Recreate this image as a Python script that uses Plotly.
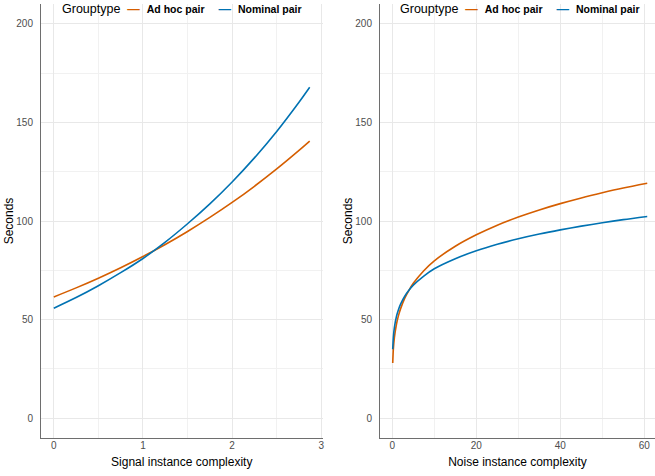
import plotly.graph_objects as go

# ---- data ----
signal_x = [0, 0.25, 0.5, 0.75, 1.0, 1.25, 1.5, 1.75, 2.0, 2.25, 2.5, 2.75, 2.87]
signal_adhoc = [61.5, 66.1, 71.0, 76.3, 82.0, 88.1, 94.7, 101.8, 109.4, 117.6, 126.4, 135.8, 140.5]
signal_nominal = [55.8, 61.2, 67.2, 73.8, 81.0, 89.3, 98.6, 108.7, 119.8, 132.0, 145.4, 160.2, 167.8]

noise_x = [0.1, 0.25, 0.5, 1, 1.5, 2, 3, 4, 5, 7.5, 10, 15, 20, 25, 30, 35, 40, 45, 50, 55, 60.7]
noise_adhoc = [28.0, 35.1, 41.0, 47.8, 52.3, 55.7, 61.0, 65.0, 68.4, 74.8, 79.8, 87.2, 93.0,
               97.9, 102.0, 105.6, 108.8, 111.7, 114.3, 116.7, 119.1]
noise_nominal = [35.0, 41.1, 46.1, 51.7, 55.3, 58.0, 62.0, 65.0, 67.5, 72.1, 75.8, 80.9, 84.9,
                 88.2, 91.0, 93.4, 95.5, 97.4, 99.1, 100.7, 102.3]

groups = ["Ad hoc pair", "Nominal pair"]
colors = {"Ad hoc pair": "#D55E00", "Nominal pair": "#0072B2"}

FONT = "Liberation Sans, Arial, sans-serif"

fig = go.Figure()
for name, ys in zip(groups, [signal_adhoc, signal_nominal]):
    fig.add_trace(go.Scatter(x=signal_x, y=ys, mode="lines", name=name,
                             line=dict(color=colors[name], width=1.6, shape="spline", smoothing=0.8),
                             xaxis="x", yaxis="y", showlegend=False))
for name, ys in zip(groups, [noise_adhoc, noise_nominal]):
    fig.add_trace(go.Scatter(x=noise_x, y=ys, mode="lines", name=name,
                             line=dict(color=colors[name], width=1.6, shape="spline", smoothing=0.8),
                             xaxis="x2", yaxis="y2", showlegend=False))

W, H = 655, 476
ML, MR, MT, MB = 41, 0, 4, 38
pw = W - ML - MR
left_dom = [0, (322.5 - ML) / pw]
right_dom = [(380 - ML) / pw, 1]

grid_major = "#e8e8e8"
grid_minor = "#f1f1f1"
axis_line = "#6e6e6e"

common_x = dict(showline=True, linecolor=axis_line, linewidth=1, ticks="",
                showgrid=True, gridcolor=grid_major, gridwidth=1, zeroline=False,
                tickfont=dict(size=10, color="#4d4d4d", family=FONT),
                title_font=dict(size=12, color="black", family=FONT),
                ticklabelstandoff=-2)
common_y = dict(showline=True, linecolor=axis_line, linewidth=1, ticks="",
                showgrid=True, gridcolor=grid_major, gridwidth=1, zeroline=False,
                range=[-10, 210], tickvals=[0, 50, 100, 150, 200],
                minor=dict(showgrid=True, gridcolor=grid_minor, tickvals=[25, 75, 125, 175]),
                tickfont=dict(size=10, color="#4d4d4d", family=FONT),
                title_font=dict(size=12, color="black", family=FONT),
                ticklabelstandoff=5)

fig.update_layout(
    width=W, height=H,
    margin=dict(l=ML, r=MR, t=MT, b=MB, autoexpand=False),
    paper_bgcolor="white", plot_bgcolor="white",
    font=dict(family=FONT),
    xaxis=dict(domain=left_dom, anchor="y", range=[-0.1435, 3.0135], tickvals=[0, 1, 2, 3],
               minor=dict(showgrid=True, gridcolor=grid_minor, tickvals=[0.5, 1.5, 2.5]),
               title=dict(text="Signal instance complexity", standoff=7), **common_x),
    xaxis2=dict(domain=right_dom, anchor="y2", range=[-2.93, 62.55], tickvals=[0, 20, 40, 60],
                minor=dict(showgrid=True, gridcolor=grid_minor, tickvals=[10, 30, 50]),
                title=dict(text="Noise instance complexity", standoff=7), **common_x),
    yaxis=dict(anchor="x", title=dict(text="Seconds", standoff=0), **common_y),
    yaxis2=dict(anchor="x2", title=dict(text="Seconds", standoff=0), **common_y),
    showlegend=False,
)

def legend_text():
    return ("Grouptype&nbsp;&nbsp;"
            "<span style='color:%s'><b>—</b></span>&nbsp;&nbsp;"
            "<span style='font-size:10.5px'><b>Ad hoc pair</b></span>&nbsp;&nbsp;&nbsp;&nbsp;"
            "<span style='color:%s'><b>—</b></span>&nbsp;&nbsp;"
            "<span style='font-size:10.5px'><b>Nominal pair</b></span>") % (
                colors["Ad hoc pair"], colors["Nominal pair"])

ph = H - MT - MB
ytop = 1 - (9 - MT) / ph
for xc in [(left_dom[0] + left_dom[1]) / 2, (520 - ML) / pw]:
    fig.add_annotation(x=xc, y=ytop, xref="paper", yref="paper", xanchor="center",
                       yanchor="middle", showarrow=False, text=legend_text(),
                       font=dict(size=12.5, color="black", family=FONT))

fig.write_html("out.html")
